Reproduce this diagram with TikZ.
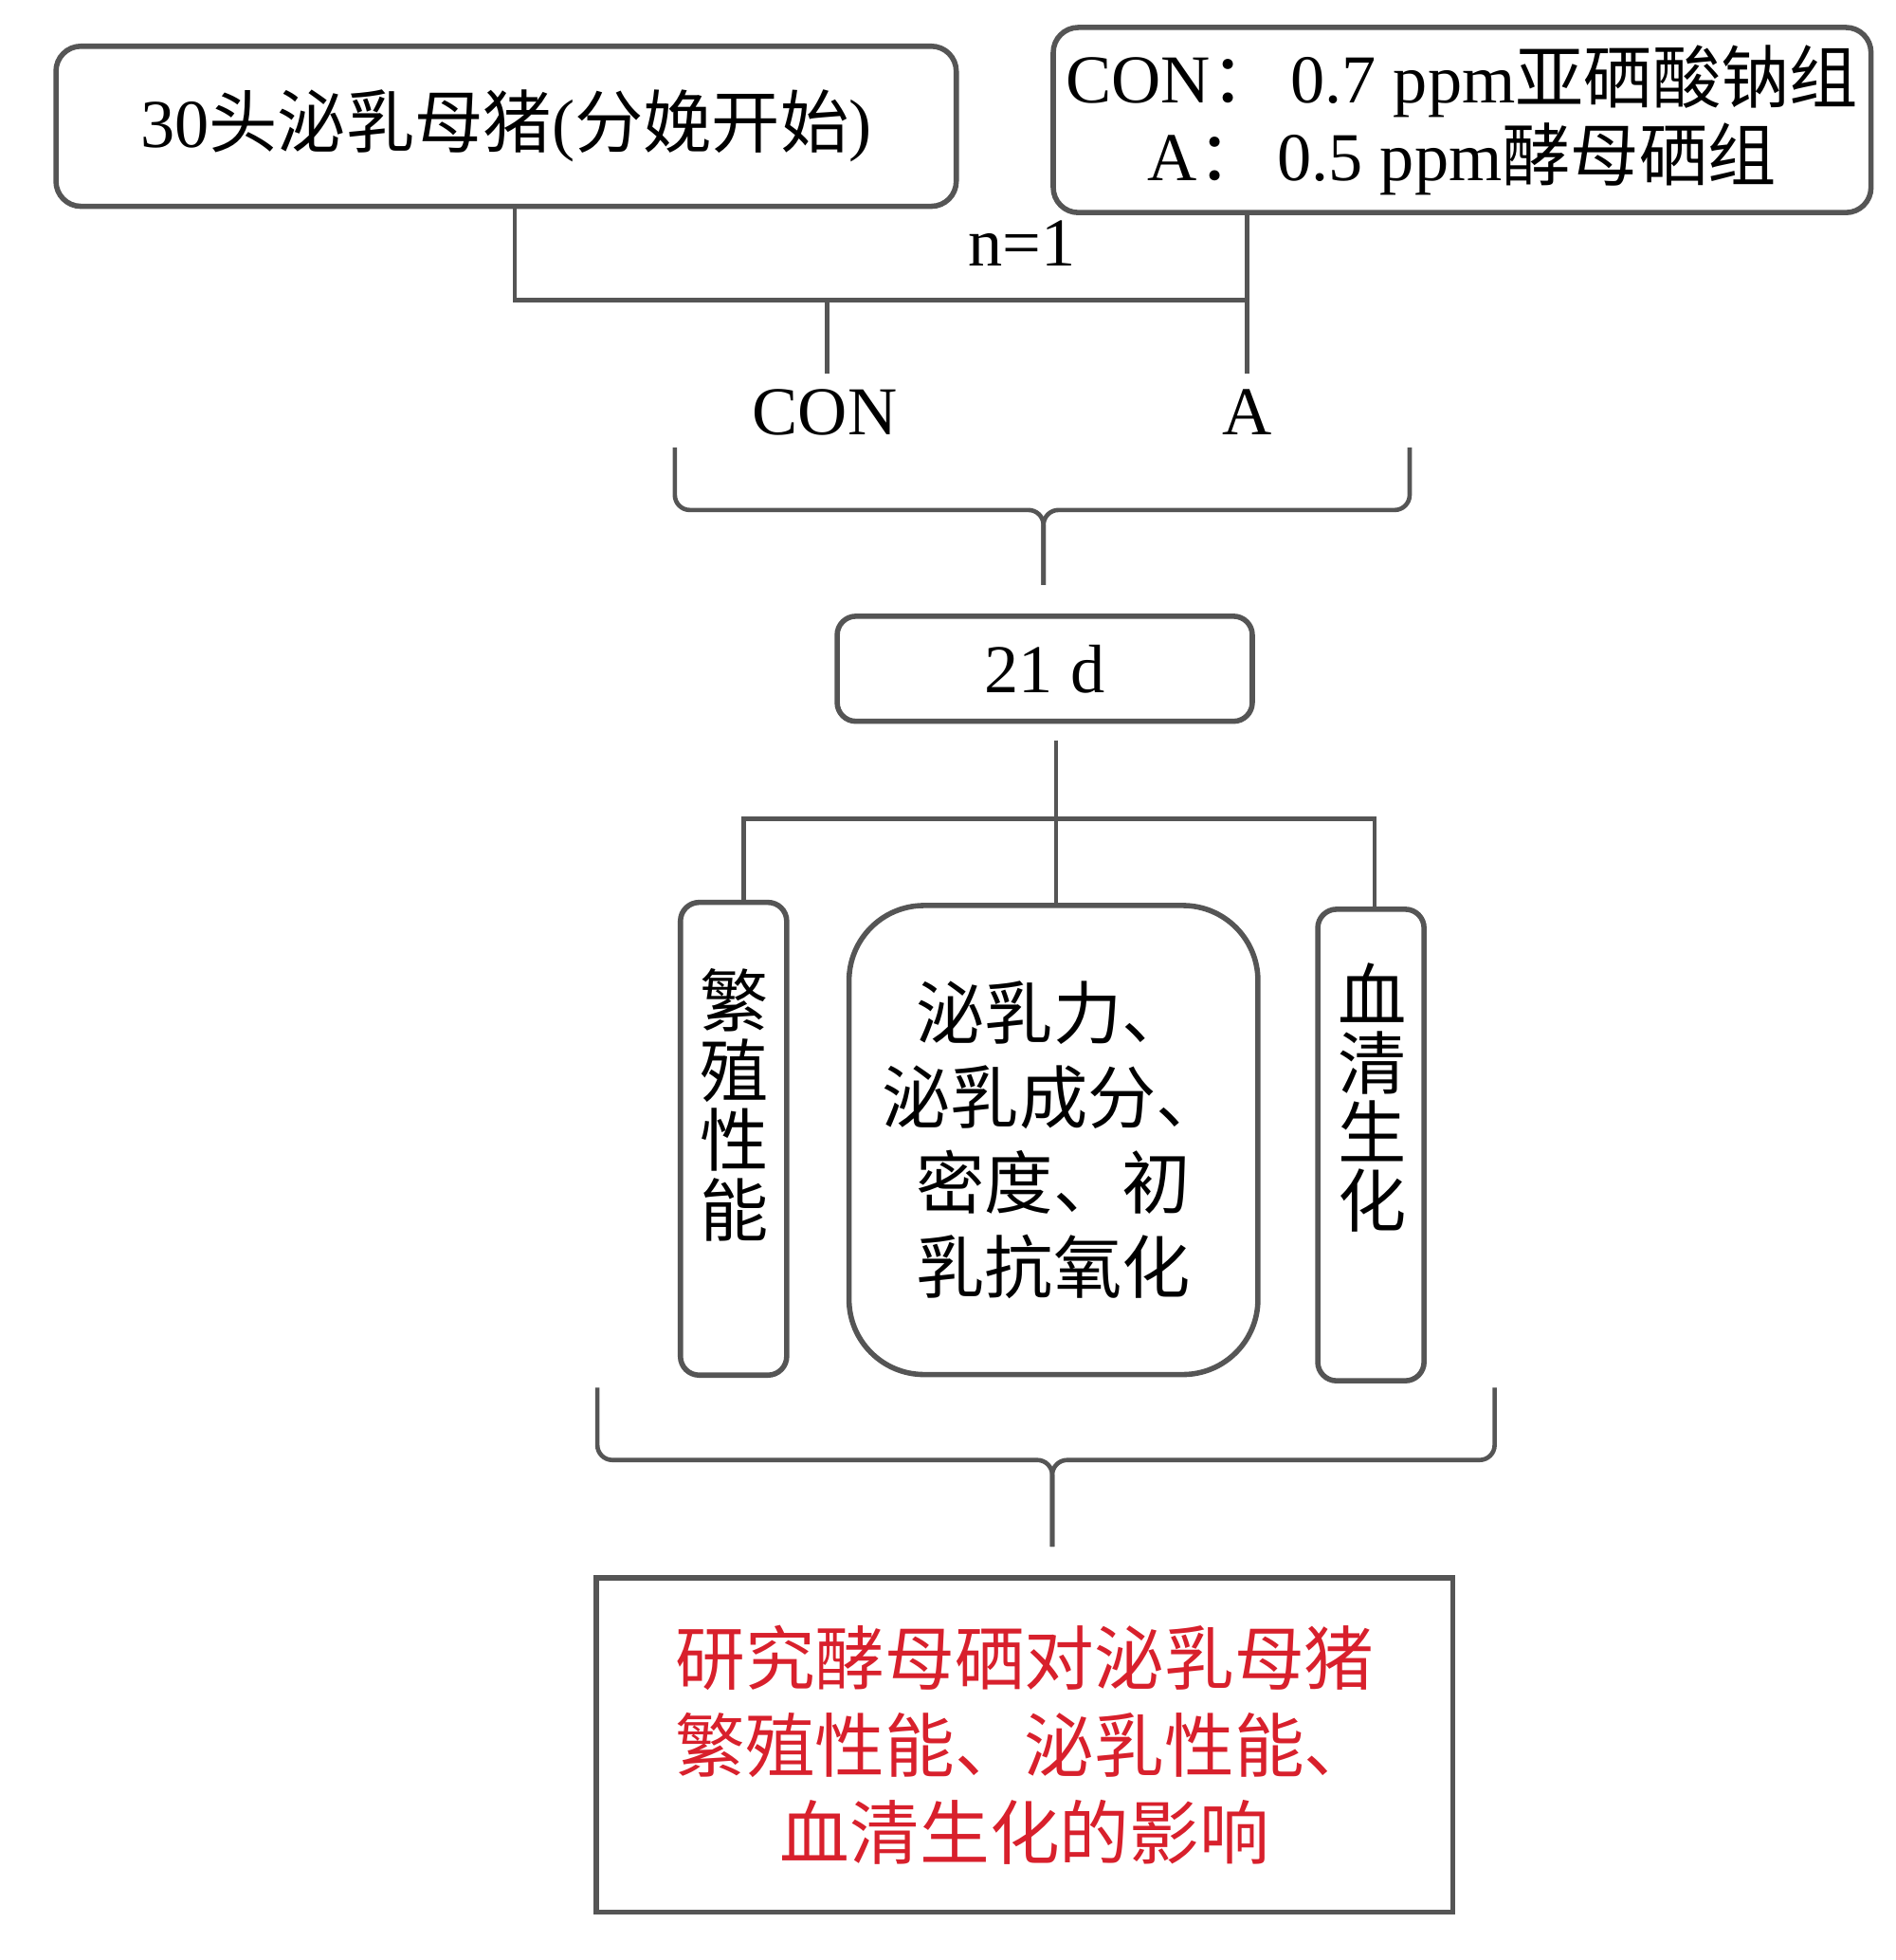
\documentclass[tikz,border=0pt]{standalone}
\usepackage{fontspec}
\setmainfont{Liberation Serif}
\newfontfamily\cjk{Noto Sans CJK SC}
\definecolor{lc}{HTML}{555555}
\definecolor{redtxt}{HTML}{D8202C}
\newcommand\myfs{\fontsize{15.6pt}{18pt}\selectfont}
\begin{document}
\begin{tikzpicture}[x=0.01cm,y=-0.01cm,
  box/.style={draw=lc,line width=1.2pt,rounded corners=0.2cm,inner sep=0pt,fill=white},
  lbl/.style={inner sep=0pt,font=\myfs},
  conn/.style={draw=lc,line width=1pt,rounded corners=0.12cm},
]
\useasboundingbox (0,0) rectangle (1517,1568);
\fill[white] (0,0) rectangle (1517,1568);

% boxes
\node[box, minimum width=7.2cm, minimum height=1.28cm] (b1) at (405,101)
  {\myfs 30{\cjk 头泌乳母猪}({\cjk 分娩开始})};
\node[box, minimum width=6.54cm, minimum height=1.48cm, align=center,
  font=\fontsize{15.6pt}{17.6pt}\selectfont] (b2) at (1170,96)
  {CON{\cjk ：}\,0.7 ppm{\cjk 亚硒酸钠组}\\A{\cjk ：}\,0.5 ppm{\cjk 酵母硒组}};

\node[lbl] (n1) at (818,195) {n=1};
\node[lbl] (con) at (660,330) {CON};
\node[lbl] (a) at (998,330) {A};

\node[box, rounded corners=0.15cm, minimum width=3.32cm, minimum height=0.84cm] (d21) at (836,535) {\myfs 21 d};

\node[box, rounded corners=0.15cm, minimum width=0.85cm, minimum height=3.78cm] (lb) at (587,911) {};
\node[lbl, align=center, font=\fontsize{15.6pt}{15.9pt}\selectfont\cjk] (lbt) at (588,884) {繁\\殖\\性\\能};

\node[box, rounded corners=0.6cm, minimum width=3.27cm, minimum height=3.75cm, align=center,
  font=\fontsize{15.6pt}{19.3pt}\selectfont\cjk] (cb) at (843,912)
  {泌乳力、\\泌乳成分、\\密度、初\\乳抗氧化};

\node[box, rounded corners=0.15cm, minimum width=0.85cm, minimum height=3.77cm] (rb) at (1097,916) {};
\node[lbl, align=center, font=\fontsize{15.6pt}{15.6pt}\selectfont\cjk] (rbt) at (1098,878) {血\\清\\生\\化};

\node[box, rounded corners=0pt, minimum width=6.85cm, minimum height=2.67cm, align=center,
  text=redtxt, font=\fontsize{15.9pt}{19.9pt}\selectfont\cjk] (bot) at (820,1396)
  {研究酵母硒对泌乳母猪\\繁殖性能、泌乳性能、\\血清生化的影响};

% connectors, top
\coordinate (j1) at (412,240);
\coordinate (j2) at (998,240);
\coordinate (j3) at (662,240);
\draw[conn, rounded corners=0pt] (b1.south -| j1) -- (j1) -- (j2);
\draw[conn, rounded corners=0pt, shorten >=0.12cm] (b2.south -| j2) -- (j2) -- (j2 |- a.north);
\draw[conn, shorten >=0.12cm] (j3) -- (j3 |- con.north);

% brace 1
\coordinate (br1l) at (540,358);
\coordinate (br1r) at (1128,358);
\coordinate (br1m) at (835,408);
\draw[conn, shorten >=0.23cm] (br1l) -- (br1l |- br1m) -- (br1m) -- (d21.north -| br1m);
\draw[conn, shorten >=0.23cm] (br1r) -- (br1r |- br1m) -- (br1m) -- (d21.north -| br1m);

% 21 d to result boxes
\coordinate (vx) at (845,655);
\coordinate (hl) at (595,655);
\coordinate (hr) at (1100,655);
\draw[conn, shorten <=0.13cm] (vx |- d21.south) -- (vx |- cb.north);
\draw[conn, rounded corners=0pt] (lb.north -| hl) -- (hl) -- (hr) -- (rb.north -| hr);

% brace 2
\coordinate (br2l) at (478,1110);
\coordinate (br2r) at (1196,1110);
\coordinate (br2m) at (842,1168);
\draw[conn, shorten >=0.23cm] (br2l) -- (br2l |- br2m) -- (br2m) -- (bot.north -| br2m);
\draw[conn, shorten >=0.23cm] (br2r) -- (br2r |- br2m) -- (br2m) -- (bot.north -| br2m);
\end{tikzpicture}
\end{document}
